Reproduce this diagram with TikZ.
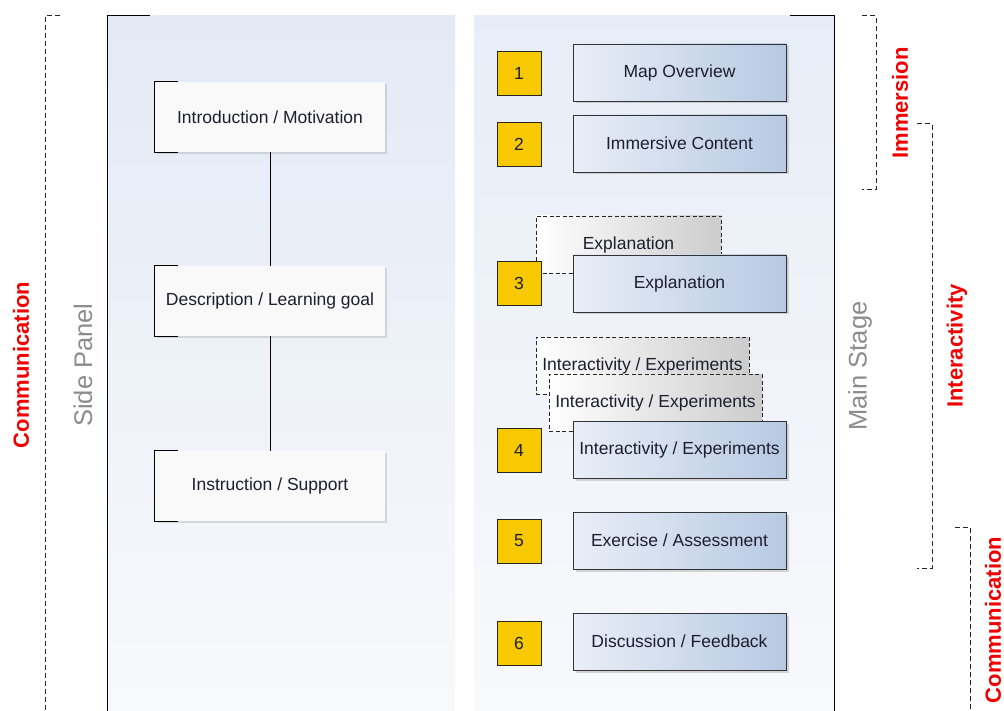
\documentclass[tikz,border=0pt]{standalone}
\usepackage{fontspec}
\setmainfont{Liberation Sans}
\usetikzlibrary{shadows}
\definecolor{txt}{HTML}{1E1E30}
\definecolor{panelTop}{HTML}{E3EAF5}
\definecolor{panelBot}{HTML}{F8F9FC}
\definecolor{blueL}{HTML}{E9EEF7}
\definecolor{blueR}{HTML}{B7C9E2}
\definecolor{yel}{HTML}{F8C800}
\definecolor{labred}{HTML}{F00000}
\definecolor{labgray}{HTML}{8C8C8C}
\tikzset{
  boxtext/.style={font=\fontsize{17.5}{20}\selectfont, text=txt},
  sidebox/.style={boxtext, fill=white!95!gray, minimum width=230pt, minimum height=70pt,
     drop shadow={shadow xshift=2pt, shadow yshift=-2pt, opacity=0.25, fill=gray}},
  stagebox/.style={boxtext, draw=black!80, line width=0.9pt, left color=blueL, right color=blueR,
     minimum width=213pt, minimum height=57pt,
     drop shadow={shadow xshift=2.5pt, shadow yshift=-2.5pt, opacity=0.3, fill=gray}},
  ghostbox/.style={boxtext, draw=black!85, dash pattern=on 4pt off 2.5pt, line width=0.9pt, left color=white, right color=black!20,
     minimum height=57pt},
  numbox/.style={boxtext, draw=black!85, line width=0.9pt, fill=yel, minimum width=44pt, minimum height=44pt},
  bracketline/.style={draw=black, line width=1pt},
  dashbracket/.style={draw=black!85, line width=1pt, dash pattern=on 5pt off 3pt},
  redlabel/.style={font=\fontsize{22}{24}\bfseries\selectfont, text=labred, rotate=90},
  graylabel/.style={font=\fontsize{25.5}{28}\selectfont, text=labgray, rotate=90},
}
\begin{document}
\begin{tikzpicture}[x=1pt,y=-1pt]
\useasboundingbox (0,0) rectangle (1004,711);
\fill[white] (0,0) rectangle (1004,711);
% panels
\shade[top color=panelTop, bottom color=panelBot] (108,16) rectangle (455,711);
\shade[top color=panelTop!85!white, bottom color=panelBot] (474,16) rectangle (834,711);
\draw[bracketline] (150,16) -- (107,16) -- (107,711);
\draw[bracketline] (790,16) -- (834,16) -- (834,711);
% outer brackets
\draw[dashbracket] (60,16) -- (45,16) -- (45,711);
\draw[dashbracket] (862,16) -- (876,16) -- (876,190) -- (862,190);
\draw[dashbracket] (917,124) -- (932,124) -- (932,568) -- (917,568);
\draw[dashbracket] (955,527) -- (970,527) -- (970,711);
% labels
\node[redlabel] (commL) at (21,365) {Communication};
\node[graylabel] (side) at (83,365) {Side Panel};
\node[graylabel] (stage) at (860,366) {Main Stage};
\node[redlabel] (imm) at (900,103) {Immersion};
\node[redlabel] (inter) at (957,346) {Interactivity};
\node[redlabel] (commR) at (993,620) {Communication};
% side panel boxes
\node[sidebox] (intro) at (270,117) {Introduction / Motivation};
\node[sidebox] (desc) at (270,301) {Description / Learning goal};
\node[sidebox] (instr) at (270,486) {Instruction / Support};
\foreach \n in {intro,desc,instr}{
  \draw[bracketline] ([xshift=23pt]\n.north west) -- (\n.north west) -- (\n.south west) -- ([xshift=23pt]\n.south west);
}
\draw[line width=1pt] (intro) -- (desc);
\draw[line width=1pt] (desc) -- (instr);
% ghost boxes
\node[ghostbox, minimum width=185pt] (ghostE) at (628.5,244.5) {Explanation};
\node[ghostbox, minimum width=213pt] (ghostI1) at (642.5,365.5) {Interactivity / Experiments};
\node[ghostbox, minimum width=213pt] (ghostI2) at (655.5,403) {Interactivity / Experiments};
% stage boxes
\node[stagebox] (s1) at (679.5,72.5) {Map Overview};
\node[stagebox] (s2) at (679.5,143.5) {Immersive Content};
\node[stagebox] (s3) at (679.5,283.5) {Explanation};
\node[stagebox] (s4) at (679.5,449.5) {Interactivity / Experiments};
\node[stagebox] (s5) at (679.5,540.5) {Exercise / Assessment};
\node[stagebox] (s6) at (679.5,641.5) {Discussion / Feedback};
% numbers
\node[numbox] (n1) at (519,73) {1};
\node[numbox] (n2) at (519,144) {2};
\node[numbox] (n3) at (519,283) {3};
\node[numbox] (n4) at (519,450.5) {4};
\node[numbox] (n5) at (519,541) {5};
\node[numbox] (n6) at (519,643) {6};
\end{tikzpicture}
\end{document}
